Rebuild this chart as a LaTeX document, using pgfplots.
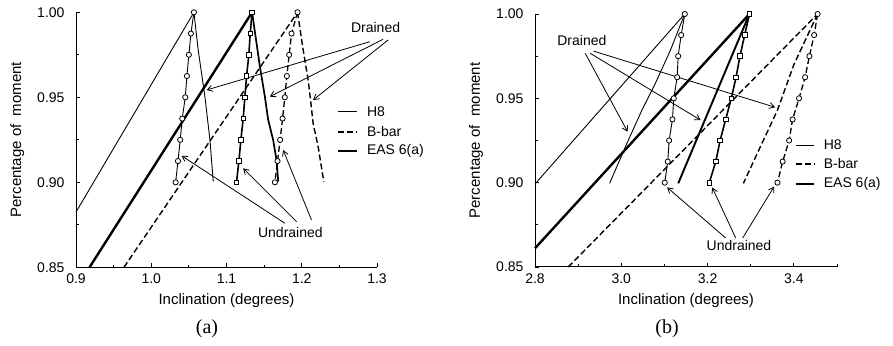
\documentclass[border=0pt]{standalone}
\usepackage{pgfplots}
\pgfplotsset{compat=1.18}
\usepackage{fontspec}
\setmainfont{Liberation Sans}
\newfontfamily\seriffont{Liberation Serif}
\usetikzlibrary{arrows.meta}

\pgfplotsset{
  myaxis/.style={
    scale only axis,
    anchor=south west,
    axis lines*=left,
    axis line style={line width=1pt,-},
    tick align=inside,
    major tick length=4pt, minor tick length=2.5pt,
    every tick/.style={black, line width=0.9pt},
    ymin=0.85, ymax=1.0,
    ytick={0.85,0.90,0.95,1.00},
    minor ytick={0.875,0.925,0.975},
    yticklabel style={/pgf/number format/.cd, fixed, fixed zerofill, precision=2, /tikz/.cd, xshift=-8pt},
    xticklabel style={yshift=-3pt},
    /pgf/number format/assume math mode=true,
    ticklabel style={font=\fontsize{14}{16}\selectfont},
    label style={font=\fontsize{15}{17}\selectfont},
    xlabel={Inclination (degrees)},
    ylabel={Percentage of\ \ moment},
    xlabel style={at={(axis description cs:0.5,-0.132)}, anchor=center},
    ylabel style={at={(axis description cs:-0.195,0.5)}, anchor=center, rotate=0},
    clip=false,
  },
}
\tikzset{
  h8/.style={black, line width=0.9pt},
  eas/.style={black, line width=2.4pt},
  bbar/.style={black, line width=1.4pt, dash pattern=on 6pt off 3pt},
  h8u/.style={black, line width=0.9pt, mark=*, mark size=2.6pt, mark options={solid, fill=white, line width=0.8pt}},
  easu/.style={black, line width=1.6pt, mark=square*, mark size=2.3pt, mark options={solid, fill=white, line width=0.8pt}},
  bbaru/.style={black, line width=1.3pt, dash pattern=on 6pt off 3pt, mark=*, mark size=2.6pt, mark options={solid, fill=white, line width=0.8pt}},
  ann/.style={black, line width=0.8pt, -{Straight Barb[length=5pt,width=6pt]}},
  anntext/.style={font=\fontsize{14}{16}\selectfont, inner sep=0pt},
}

\begin{document}
\begin{tikzpicture}
\path[use as bounding box] (0,0) rectangle (893pt,345pt);

% ---------------- (a) ----------------
\begin{axis}[myaxis,
  at={(76pt,77.7pt)}, width=301pt, height=255pt,
  xmin=0.9, xmax=1.3,
  xtick={0.9,1.0,1.1,1.2,1.3},
  minor xtick={0.95,1.05,1.15,1.25},
  xticklabel style={/pgf/number format/.cd, fixed, fixed zerofill, precision=1},
]
% H8
\addplot[h8] coordinates {(0.9,0.8825) (1.0567,1.0)};
\addplot[h8] coordinates {(1.0567,1.0) (1.0624,0.9778) (1.0713,0.9504) (1.0780,0.9249) (1.0824,0.9004)};
\addplot[h8u] coordinates {(1.0567,1.0) (1.0527,0.9875) (1.0500,0.975) (1.0474,0.9625) (1.0452,0.95) (1.0412,0.9375) (1.0385,0.925) (1.0355,0.9125) (1.0324,0.90)};
% EAS
\addplot[eas] coordinates {(0.918,0.85) (1.134,1.0)};
\addplot[eas, line width=1.7pt] coordinates {(1.134,1.0) (1.1444,0.968) (1.151,0.9504) (1.1554,0.9367) (1.162,0.9249) (1.1665,0.9131) (1.1687,0.9004)};
\addplot[easu] coordinates {(1.134,1.0) (1.1315,0.9875) (1.1297,0.975) (1.1267,0.9625) (1.1244,0.95) (1.1222,0.9375) (1.1191,0.925) (1.1165,0.9125) (1.1133,0.90)};
% B-bar
\addplot[bbar] coordinates {(0.9637,0.85) (1.1944,1.0)};
\addplot[bbar] coordinates {(1.1944,1.0) (1.2019,0.9778) (1.2085,0.9602) (1.2117,0.9484) (1.2151,0.9347) (1.2218,0.9209) (1.2293,0.9004)};
\addplot[bbaru] coordinates {(1.1944,1.0) (1.1864,0.9875) (1.1833,0.975) (1.1802,0.9625) (1.1775,0.95) (1.1745,0.9375) (1.1713,0.925) (1.1678,0.9125) (1.1643,0.90)};
% legend
\draw[h8] (axis cs:1.2479,0.9414) -- (axis cs:1.2728,0.9414);
\draw[bbar] (axis cs:1.2479,0.9296) -- (axis cs:1.2728,0.9296);
\draw[eas] (axis cs:1.2479,0.9184) -- (axis cs:1.2728,0.9184);
\node[anntext, anchor=west] at (axis cs:1.2865,0.9414) {H8};
\node[anntext, anchor=west] at (axis cs:1.2865,0.9296) {B-bar};
\node[anntext, anchor=west] at (axis cs:1.2865,0.9184) {EAS 6(a)};
% Drained
\node[anntext] at (axis cs:1.2981,0.9911) {Drained};
\draw[ann] (axis cs:1.2904,0.9827) -- (axis cs:1.0736,0.9543);
\draw[ann] (axis cs:1.3081,0.9841) -- (axis cs:1.1576,0.9504);
\draw[ann] (axis cs:1.3147,0.9837) -- (axis cs:1.2151,0.9484);
% Undrained
\node[anntext] at (axis cs:1.1849,0.8702) {Undrained};
\draw[ann] (axis cs:1.1776,0.8759) -- (axis cs:1.0404,0.9156);
\draw[ann] (axis cs:1.1931,0.8768) -- (axis cs:1.1222,0.9082);
\draw[ann] (axis cs:1.2130,0.8778) -- (axis cs:1.1753,0.9190);
\end{axis}

% ---------------- (b) ----------------
\begin{axis}[myaxis,
  at={(535pt,78pt)}, width=302pt, height=253pt,
  xmin=2.8, xmax=3.5,
  xtick={2.8,3.0,3.2,3.4},
  minor xtick={2.9,3.1,3.3,3.5},
  xticklabel style={/pgf/number format/.cd, fixed, fixed zerofill, precision=1},
]
% H8
\addplot[h8] coordinates {(2.8,0.8992) (3.147,1.0)};
\addplot[h8] coordinates {(3.147,1.0) (3.114,0.9786) (3.079,0.9589) (3.048,0.9431) (3.013,0.9233) (2.973,0.8996)};
\addplot[h8u] coordinates {(3.1472,1.0) (3.1388,0.9875) (3.1318,0.975) (3.1295,0.9625) (3.1216,0.95) (3.1186,0.9375) (3.1109,0.925) (3.1077,0.9125) (3.1007,0.90)};
% EAS
\addplot[eas] coordinates {(2.8,0.8611) (3.297,1.0)};
\addplot[eas, line width=1.9pt] coordinates {(3.297,1.0) (3.132,0.8996)};
\addplot[easu] coordinates {(3.297,1.0) (3.286,0.9875) (3.275,0.975) (3.266,0.9625) (3.255,0.95) (3.242,0.9375) (3.229,0.925) (3.219,0.9125) (3.204,0.90)};
% B-bar
\addplot[bbar] coordinates {(2.877,0.85) (3.455,1.0)};
\addplot[bbar] coordinates {(3.455,1.0) (3.40,0.97) (3.362,0.943) (3.32,0.92) (3.283,0.8996)};
\addplot[bbaru] coordinates {(3.455,1.0) (3.447,0.9875) (3.436,0.975) (3.426,0.9625) (3.412,0.95) (3.397,0.9375) (3.389,0.925) (3.374,0.9125) (3.362,0.90)};
% legend
\draw[h8] (axis cs:3.4047,0.9223) -- (axis cs:3.4472,0.9223);
\draw[bbar] (axis cs:3.4047,0.9111) -- (axis cs:3.4472,0.9111);
\draw[eas] (axis cs:3.4047,0.8992) -- (axis cs:3.4472,0.8992);
\node[anntext, anchor=west] at (axis cs:3.469,0.9223) {H8};
\node[anntext, anchor=west] at (axis cs:3.469,0.9111) {B-bar};
\node[anntext, anchor=west] at (axis cs:3.469,0.8992) {EAS 6(a)};
% Drained
\node[anntext] at (axis cs:2.9086,0.984) {Drained};
\draw[ann] (axis cs:2.9163,0.9767) -- (axis cs:3.0147,0.9302);
\draw[ann] (axis cs:2.9279,0.9767) -- (axis cs:3.1837,0.9371);
\draw[ann] (axis cs:2.9356,0.9780) -- (axis cs:3.3565,0.9447);
% Undrained
\node[anntext] at (axis cs:3.2728,0.863) {Undrained};
\draw[ann] (axis cs:3.2419,0.8672) -- (axis cs:3.1063,0.8972);
\draw[ann] (axis cs:3.2651,0.8672) -- (axis cs:3.2109,0.8971);
\draw[ann] (axis cs:3.2814,0.8672) -- (axis cs:3.3542,0.8977);
\end{axis}

\node[font=\seriffont\fontsize{20}{20}\selectfont] at (207pt,16pt) {(a)};
\node[font=\seriffont\fontsize{20}{20}\selectfont] at (667pt,16pt) {(b)};
\end{tikzpicture}
\end{document}
